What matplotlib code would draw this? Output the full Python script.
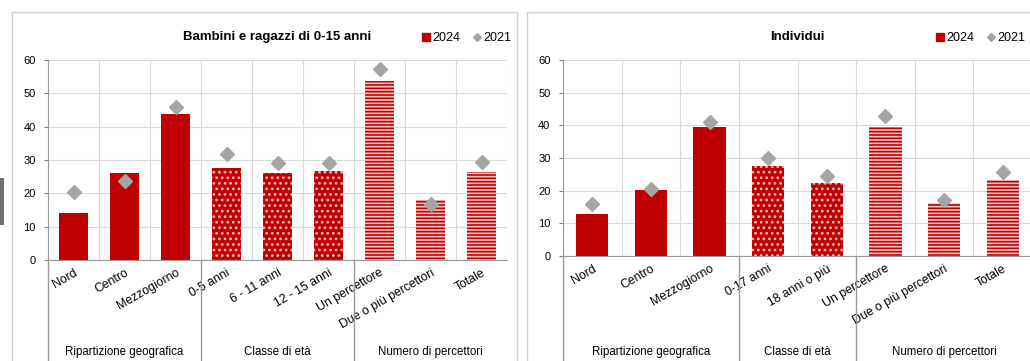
import matplotlib
matplotlib.use("Agg")
import matplotlib.pyplot as plt
import matplotlib.transforms as mtransforms
from matplotlib.lines import Line2D
from matplotlib.patches import Rectangle
import numpy as np

plt.rcParams['font.family'] = ['Liberation Sans', 'DejaVu Sans']
plt.rcParams['hatch.linewidth'] = 1.2

# Bambini e ragazzi di 0-15 anni
labels_left = ["Nord", "Centro", "Mezzogiorno", "0-5 anni", "6 - 11 anni", "12 - 15 anni",
               "Un percettore", "Due o più percettori", "Totale"]
v2024_left = [14.2, 26.2, 43.7, 27.7, 26.1, 26.8, 53.8, 18.1, 26.5]
v2021_left = [20.4, 23.6, 45.8, 31.8, 29.0, 29.0, 57.4, 16.9, 29.5]
style_left = ["solid", "solid", "solid", "dots", "dots", "dots", "stripes", "stripes", "stripes"]
groups_left = [("Ripartizione geografica", 0, 2), ("Classe di età", 3, 5), ("Numero di percettori", 6, 8)]

# Individui
labels_right = ["Nord", "Centro", "Mezzogiorno", "0-17 anni", "18 anni o più",
                "Un percettore", "Due o più percettori", "Totale"]
v2024_right = [13.0, 20.1, 39.4, 27.5, 22.5, 39.4, 16.1, 23.4]
v2021_right = [15.9, 20.6, 40.9, 29.9, 24.5, 42.9, 17.1, 25.6]
style_right = ["solid", "solid", "solid", "dots", "dots", "stripes", "stripes", "stripes"]
groups_right = [("Ripartizione geografica", 0, 2), ("Classe di età", 3, 4), ("Numero di percettori", 5, 7)]

RED = "#C00000"
GRAY = "#A5A5A5"
GRID = "#D9D9D9"

W, H = 1030, 361
fig = plt.figure(figsize=(W / 100, H / 100), dpi=100)
fig.patch.set_facecolor("white")

def px_axes(x0, y0, x1, y1):
    # pixel box (top-left origin) -> figure fraction
    return fig.add_axes([x0 / W, (H - y1) / H, (x1 - x0) / W, (y1 - y0) / H])

# panel frames
for (x0, x1) in [(12, 517), (527, 1036)]:
    fig.patches.append(Rectangle((x0 / W, -0.1), (x1 - x0) / W, (H - 12) / H + 0.1,
                                 transform=fig.transFigure, fill=False,
                                 edgecolor="#CFCFCF", linewidth=1.0))
fig.patches.append(Rectangle((0, (H - 225) / H), 4 / W, 47 / H, transform=fig.transFigure,
                             facecolor="#6E6E6E", edgecolor="none"))

def draw_panel(ax, title, labels, v24, v21, styles, groups, legend_right):
    x = np.arange(len(labels))
    n = len(labels)
    ax.set_xlim(-0.5, n - 0.5)
    ax.set_ylim(0, 60)
    ax.set_yticks(np.arange(0, 61, 10))
    ax.tick_params(axis="y", labelsize=8, length=3, color="#808080", pad=6)
    ax.set_xticks(x)
    ax.set_xticklabels(labels, rotation=30, ha="right", rotation_mode="anchor", fontsize=8.8)
    ax.tick_params(axis="x", length=0, pad=5)
    for s in ["top", "right"]:
        ax.spines[s].set_visible(False)
    ax.spines["left"].set_color("#9A9A9A")
    ax.spines["bottom"].set_color("#9A9A9A")
    ax.set_axisbelow(True)
    ax.yaxis.grid(True, color=GRID, linewidth=0.8)
    for b in np.arange(0.5, n - 0.5, 1):
        ax.axvline(b, color=GRID, linewidth=0.8, zorder=0)
    ax.axvline(n - 0.5, color=GRID, linewidth=0.8, zorder=0)

    for xi, val, st in zip(x, v24, styles):
        if st == "solid":
            ax.bar(xi, val, 0.55, color=RED, zorder=2)
        elif st == "dots":
            ax.bar(xi, val, 0.55, color=RED, hatch="...", edgecolor="#F6B8B8", linewidth=0, zorder=2)
        else:
            ax.bar(xi, val, 0.55, color="#F3C6C6", hatch="-----", edgecolor=RED, linewidth=0, zorder=2)
    ax.plot(x, v21, linestyle="none", marker="D", markersize=7, color=GRAY, zorder=3)

    # title and legend placed in figure pixels
    fig.text(ax.get_position().x0 + ax.get_position().width / 2, (H - 37) / H, title,
             ha="center", va="center", fontsize=9.5, fontweight="bold")

    trans = mtransforms.blended_transform_factory(ax.transData, fig.transFigure)
    bounds = [-0.5] + [g[2] + 0.5 for g in groups[:-1]]
    y_axis0 = ax.get_position().y0
    for b in bounds:
        ax.add_line(Line2D([b, b], [y_axis0, -0.05], transform=trans, color="#9A9A9A",
                           linewidth=1.0, clip_on=False))
    for name, a, b in groups:
        ax.text((a + b) / 2, (H - 352) / H, name, transform=trans, ha="center", va="center",
                fontsize=8.3)

    handles = [Line2D([], [], linestyle="none", marker="s", markersize=6, color=RED),
               Line2D([], [], linestyle="none", marker="D", markersize=4, color=GRAY)]
    fig.legend(handles, ["2024", "2021"], ncol=2, frameon=False, loc="center right",
               bbox_to_anchor=(legend_right / W, (H - 38) / H), fontsize=9, handlelength=0.6,
               handletextpad=0.2, columnspacing=1.0, borderaxespad=0, borderpad=0)

ax1 = px_axes(48, 60, 507, 260)
draw_panel(ax1, "Bambini e ragazzi di 0-15 anni", labels_left, v2024_left, v2021_left,
           style_left, groups_left, 511)
ax2 = px_axes(563, 60, 1032, 256)
draw_panel(ax2, "Individui", labels_right, v2024_right, v2021_right, style_right, groups_right, 1025)

fig.savefig("out.png", dpi=100, facecolor="white")
